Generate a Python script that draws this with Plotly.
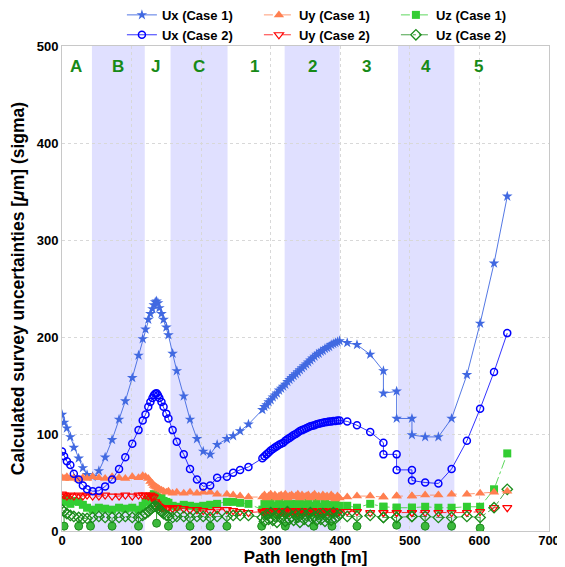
import plotly.graph_objects as go

# ---------------- data ----------------
x_left = [0, 3, 7, 12, 17, 24, 30, 36, 44, 53, 62, 72, 82, 91, 101, 110, 116, 120, 124, 127,
          130, 132, 134, 136, 138, 140, 143, 146, 150, 153, 159, 165, 175, 184, 194, 203, 213,
          223, 237, 246, 256, 268]
x_dense = [288, 291, 294, 297, 300, 303, 306, 309, 312, 315, 318, 321, 324, 327, 330, 333, 336,
           339, 342, 345, 348, 351, 354, 357, 360, 363, 366, 369, 372, 375, 378, 381, 384, 387,
           390, 393, 396, 399]
x_tail = [410, 424, 443, 462, 462, 481, 481, 503, 503, 522, 541, 560, 582, 601, 621, 640]

ux1_left = [120, 112, 106, 97, 86, 75, 65, 58, 56, 62, 76, 94, 115, 134, 158, 181, 198, 208, 218, 224,
            229, 233, 236, 237, 235, 230, 224, 218, 210, 202, 183, 165, 139, 115, 95, 82, 79,
            89, 95, 98, 103, 110]
ux1_dense = [125, 128, 130, 133, 135, 138, 140, 142, 145, 147, 149, 151, 154, 156, 158, 160, 162,
             164, 166, 168, 170, 172, 174, 176, 178, 180, 182, 183, 185, 186, 188, 189, 190, 192,
             193, 194, 195, 196]
ux1_tail = [194, 192, 182, 165, 142, 144, 116, 116, 99, 97, 97, 116, 161, 214, 276, 345]

ux2_left = [82, 77, 72, 68, 59, 53, 47, 43, 41, 41.5, 46, 53, 64, 76, 90, 104, 114, 120, 128, 133,
            137, 140, 141.5, 142, 140, 137, 133, 128, 121, 116, 104, 92, 79, 64, 53, 46, 47,
            55, 56, 60, 63, 66]
ux2_dense = [75, 77, 79, 81, 83, 84.5, 86, 87.5, 89, 90, 91, 93, 94.5, 96, 97.5, 99, 100, 101.5,
             103, 104, 105, 106, 107, 108, 108.5, 109, 110, 110.5, 111, 111.5, 112, 112.5, 113,
             113, 113.5, 113.5, 114, 114]
ux2_tail = [113, 109, 102, 91, 79, 79, 63, 63, 52, 50, 49, 64, 93, 126, 164, 204]

uy1_left = [55, 54, 56, 54, 55, 53, 55, 54, 56, 55, 54, 56, 55, 54, 56, 55, 57, 56, 54, 51,
            49, 47, 46, 45, 44, 43, 42, 41, 40, 41, 39, 40, 39, 40, 39, 40, 40,
            38, 38, 37, 36, 35]
uy1_dense = [35, 37, 34, 36, 38, 35, 37, 34, 36, 37, 35, 38, 34, 36, 37, 35, 36, 38, 34, 37, 35,
             36, 37, 34, 36, 38, 35, 36, 34, 37, 35, 36, 34, 37, 35, 33, 36, 34]
uy1_tail = [35, 36, 36, 35, 35, 36, 36, 36, 36, 37, 37, 38, 38, 39, 40, 41]

uy2_left = [38, 37, 36, 37, 36, 37, 36, 37, 36, 36, 37, 36, 36, 37, 36, 37, 37, 37, 36, 37,
            36, 35, 30, 28, 26, 25, 24, 24, 23, 24, 23, 24, 23, 22, 22, 21, 20,
            22, 22, 21, 20, 19]
uy2_dense = [20, 19, 21, 20, 19, 20, 21, 19, 20, 20, 19, 21, 20, 19, 20, 21, 20, 19, 20, 21, 19,
             20, 20, 19, 21, 20, 19, 20, 20, 21, 19, 20, 19, 20, 21, 20, 19, 20]
uy2_tail = [20, 20, 19, 19, 19, 19, 19, 19, 19, 19, 19, 19, 19, 20, 24, 24]

uz1_left = [32, 30, 33, 28, 31, 30, 27, 24, 22, 24, 23, 22, 24, 23, 24, 22, 26, 30, 32, 34,
            36, 38, 37, 35, 33, 32, 34, 31, 30, 29, 26, 25, 27, 26, 25, 26, 27,
            28, 30, 30, 29, 28]
uz1_dense = [22, 28, 18, 25, 30, 20, 26, 17, 29, 23, 27, 19, 30, 24, 21, 28, 18, 26, 31, 22, 27,
             20, 29, 24, 18, 26, 30, 21, 25, 19, 28, 23, 27, 20, 24, 29, 22, 26]
uz1_tail = [26, 24, 28, 25, 25, 24, 24, 24, 24, 25, 24, 24, 25, 25, 43, 80]

uz2_left = [22, 20, 18, 16, 15, 14, 13, 13, 14, 15, 14, 14, 14, 15, 14, 14, 16, 18, 20, 22,
            24, 25, 26, 25, 24, 22, 20, 18, 16, 15, 14, 15, 15, 14, 15, 15, 14,
            15, 15, 16, 16, 16]
uz2_dense = [14, 10, 17, 12, 19, 11, 15, 9, 18, 13, 16, 10, 20, 12, 15, 11, 17, 14, 9, 18, 12,
             16, 10, 19, 13, 15, 11, 17, 12, 18, 10, 14, 16, 11, 19, 13, 15, 17]
uz2_tail = [15, 15, 16, 14, 14, 14, 14, 15, 15, 15, 14, 14, 15, 14, 24, 43]

stem_x = [3, 24, 41, 72, 110, 136, 153, 184, 213, 237, 287, 321, 362, 388, 424, 481, 522, 560, 601]
stem_top = [20, 14, 13, 14, 14, 25, 15, 14, 14, 15, 16, 14, 13, 15, 15, 14, 15, 14, 14]
stem_bottom = [5, 5, 5, 5, 5, 8, 5, 5, 5, 5, 5, 5, 5, 5, 5, 6, 5, 5, 3]

regions_shaded = [(43, 119), (156, 238), (320, 399), (483, 564)]
region_labels = ["A", "B", "J", "C", "1", "2", "3", "4", "5"]
region_label_x = [20, 81, 134, 197, 276, 360, 438, 523, 598]
region_label_y = 479

x_all = x_left + x_dense + x_tail

FONT = "Liberation Sans, Arial"

# ---------------- figure ----------------
fig = go.Figure()

for (x0, x1) in regions_shaded:
    fig.add_shape(type="rect", xref="x", yref="y", x0=x0, x1=x1, y0=0, y1=500,
                  fillcolor="rgba(0,0,255,0.12)", line_width=0, layer="below")

# stems (not in legend)
sx, sy = [], []
for xv, t, b in zip(stem_x, stem_top, stem_bottom):
    sx += [xv, xv, None]
    sy += [t, b, None]
fig.add_trace(go.Scatter(x=sx, y=sy, mode="lines", line=dict(color="#2ca02c", width=1),
                         showlegend=False, hoverinfo="skip"))
fig.add_trace(go.Scatter(x=stem_x, y=stem_bottom, mode="markers", showlegend=False,
                         marker=dict(symbol="circle", size=8, color="#3cb93c",
                                     line=dict(color="#1f8a1f", width=1))))

series = [
    ("Ux (Case 1)", ux1_left + ux1_dense + ux1_tail, "#4169E1", "solid", 0.9, "star", 8, "#4169E1", None),
    ("Uy (Case 1)", uy1_left + uy1_dense + uy1_tail, "#FF7F50", "dash", 0.8, "triangle-up", 9, "#FF7F50", None),
    ("Uz (Case 1)", uz1_left + uz1_dense + uz1_tail, "#32CD32", "dashdot", 0.8, "square", 8, "#32CD32", None),
    ("Ux (Case 2)", ux2_left + ux2_dense + ux2_tail, "#0000FF", "solid", 0.8, "circle-open", 7, "#0000FF", 1.5),
    ("Uy (Case 2)", uy2_left + uy2_dense + uy2_tail, "#FF0000", "dash", 0.8, "triangle-down-open", 8, "#FF0000", 1.2),
    ("Uz (Case 2)", uz2_left + uz2_dense + uz2_tail, "#1a8c1a", "dashdot", 0.8, "diamond-open", 8, "#1a8c1a", 1.3),
]
order = [2, 4, 5, 0, 1, 3]  # draw order: z behind, x in front
traces = {}
for i, (name, yv, col, dash, lw, sym, size, mcol, mlw) in enumerate(series):
    mk = dict(symbol=sym, size=size, color=mcol)
    if mlw:
        mk["line"] = dict(color=mcol, width=mlw)
    traces[i] = go.Scatter(x=x_all, y=yv, name=name, mode="lines+markers",
                           line=dict(color=col, width=lw, dash=dash), marker=mk,
                           legendrank=i + 1)
for i in order:
    fig.add_trace(traces[i])

for lab, lx in zip(region_labels, region_label_x):
    fig.add_annotation(x=lx, y=region_label_y, text=lab, showarrow=False,
                       font=dict(family=FONT, size=17, color="#178a17", weight="bold"))

axis_common = dict(showline=True, linecolor="#c8c8c8", linewidth=1, mirror=True,
                   showgrid=True, gridcolor="#d8d8d8", griddash="dot", zeroline=False,
                   ticks="", automargin=False,
                   tickfont=dict(family=FONT, size=13, color="black", weight="bold"))

# page body has an 8px margin: size the figure to fill the remaining window
fig.update_layout(
    width=557, height=559,
    margin=dict(l=54, r=16, t=38, b=36, autoexpand=False),
    paper_bgcolor="white", plot_bgcolor="white",
    font=dict(family=FONT, color="black"),
    xaxis=dict(range=[0, 700], dtick=100, ticklabelstandoff=-3, **axis_common,
               title=dict(text="Path length [m]",
                          font=dict(family=FONT, size=17, color="black", weight="bold"))),
    yaxis=dict(range=[0, 500], dtick=100, **axis_common,
               title=dict(text="Calculated survey uncertainties [<i>μ</i>m] (sigma)",
                          font=dict(family=FONT, size=17.5, color="black", weight="bold"))),
    legend=dict(orientation="h", xref="paper", yref="paper",
                x=0.545, xanchor="center", y=1.095, yanchor="top",
                entrywidth=92, traceorder="normal", bgcolor="rgba(0,0,0,0)",
                font=dict(family=FONT, size=13, color="black", weight="bold")),
    showlegend=True,
)

fig.write_html("out.html")
